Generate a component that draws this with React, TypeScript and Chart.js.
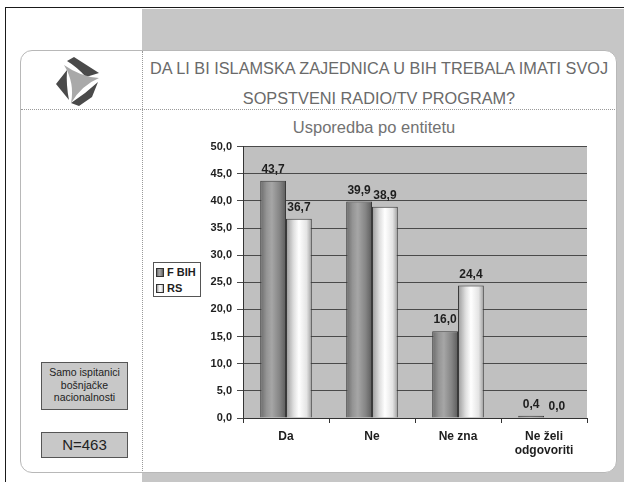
import React, { useEffect, useRef } from "react";
import { Chart, registerables } from "chart.js";

Chart.register(...registerables);

const categories: (string | string[])[] = ["Da", "Ne", "Ne zna", ["Ne želi", "odgovoriti"]];
const seriesNames = ["F BIH", "RS"];
const fbihValues = [43.7, 39.9, 16.0, 0.4];
const rsValues = [36.7, 38.9, 24.4, 0.0];
const yTicksMin = 0;
const yTicksMax = 50;
const yTicksStep = 5;

const titleLine1 = "DA LI BI ISLAMSKA ZAJEDNICA U BIH TREBALA IMATI SVOJ";
const titleLine2 = "SOPSTVENI RADIO/TV PROGRAM?";
const subtitle = "Usporedba po entitetu";
const noteLines = ["Samo ispitanici", "bošnjačke", "nacionalnosti"];
const sampleText = "N=463";

const FONT = "'Liberation Sans', Arial, sans-serif";

const fmt = (v: number) => v.toFixed(1).replace(".", ",");

const fbihStops: [number, string][] = [
  [0, "#6a6a6a"],
  [0.25, "#959595"],
  [0.45, "#a6a6a6"],
  [0.75, "#858585"],
  [1, "#5c5c5c"],
];
const rsStops: [number, string][] = [
  [0, "#9a9a9a"],
  [0.3, "#e0e0e0"],
  [0.5, "#ffffff"],
  [0.8, "#e4e4e4"],
  [1, "#9e9e9e"],
];

function barGradient(stops: [number, string][], dsIndex: number) {
  return (ctx: any) => {
    const chart = ctx.chart;
    const area = chart.chartArea;
    const xs = chart.scales.x;
    if (!area || !xs) return stops[2][1];
    const n = categories.length;
    const catW = (area.right - area.left) / n;
    const barW = (catW * 0.6) / 2;
    const center = xs.getPixelForValue(ctx.dataIndex);
    const left = dsIndex === 0 ? center - barW : center;
    const g = chart.ctx.createLinearGradient(left, 0, left + barW, 0);
    stops.forEach(([o, c]) => g.addColorStop(o, c));
    return g;
  };
}

const plotBg = {
  id: "plotBg",
  beforeDraw(chart: any) {
    const { ctx, chartArea } = chart;
    if (!chartArea) return;
    ctx.save();
    ctx.fillStyle = "#c0c0c0";
    ctx.fillRect(chartArea.left, chartArea.top, chartArea.right - chartArea.left, chartArea.bottom - chartArea.top);
    ctx.restore();
  },
};

const valueLabels = {
  id: "valueLabels",
  afterDatasetsDraw(chart: any) {
    const { ctx } = chart;
    ctx.save();
    ctx.font = `bold 12px ${FONT}`;
    ctx.fillStyle = "#1e1e1e";
    ctx.textAlign = "center";
    ctx.textBaseline = "bottom";
    chart.data.datasets.forEach((ds: any, di: number) => {
      const meta = chart.getDatasetMeta(di);
      meta.data.forEach((el: any, i: number) => {
        ctx.fillText(fmt(ds.data[i]), el.x, el.y - 5);
      });
    });
    ctx.restore();
  },
};

function Logo() {
  return (
    <svg width={44} height={49} viewBox="0 0 44 49" style={{ position: "absolute", left: 55, top: 57 }}>
      <path d="M12,4 L19,0 L44,16 L31,20 Q22,10 12,4 Z" fill="#4a4a4a" />
      <path d="M1,27 L12,13 Q11,28 14,43 Z" fill="#4a4a4a" />
      <path d="M16,46 Q30,37 43,25 L37,40 L24,49 Z" fill="#4a4a4a" />
      <path d="M9,8 Q26,20 44,21 Q27,28 16,46 Q20,26 9,8 Z" fill="#a9a9a9" />
    </svg>
  );
}

function LegendSwatch({ stops }: { stops: [number, string][] }) {
  const grad = `linear-gradient(to right, ${stops.map(([o, c]) => `${c} ${o * 100}%`).join(", ")})`;
  return (
    <span
      style={{
        display: "inline-block",
        width: 6,
        height: 7,
        border: "1px solid #333",
        background: grad,
        marginRight: 3,
        verticalAlign: "middle",
        position: "relative",
        top: -1,
      }}
    />
  );
}

export default function App() {
  const canvasRef = useRef<HTMLCanvasElement | null>(null);

  useEffect(() => {
    if (!canvasRef.current) return;
    const chart = new Chart(canvasRef.current, {
      type: "bar",
      data: {
        labels: categories as any,
        datasets: [
          {
            label: seriesNames[0],
            data: fbihValues,
            backgroundColor: barGradient(fbihStops, 0) as any,
            borderColor: "#3a3a3a",
            borderWidth: 1,
            categoryPercentage: 0.6,
            barPercentage: 1.0,
          },
          {
            label: seriesNames[1],
            data: rsValues,
            backgroundColor: barGradient(rsStops, 1) as any,
            borderColor: "#3a3a3a",
            borderWidth: 1,
            categoryPercentage: 0.6,
            barPercentage: 1.0,
          },
        ],
      },
      options: {
        animation: false,
        responsive: false,
        maintainAspectRatio: false,
        layout: { padding: { left: 48, right: 18, top: 10, bottom: 0 } },
        plugins: {
          legend: { display: false },
          title: { display: false },
          tooltip: { enabled: false },
        },
        scales: {
          x: {
            grid: {
              display: true,
              drawOnChartArea: false,
              drawTicks: true,
              tickLength: 5,
              color: "#333",
              offset: true,
            },
            border: { display: true, color: "#333", width: 1 },
            ticks: {
              color: "#1e1e1e",
              font: { family: FONT, size: 12, weight: "bold" },
              padding: 6,
              maxRotation: 0,
              autoSkip: false,
            },
            afterFit(scale: any) {
              scale.height = 52;
            },
          },
          y: {
            min: yTicksMin,
            max: yTicksMax,
            grid: {
              color: "#4a4a4a",
              lineWidth: 1,
              drawTicks: true,
              tickLength: 6,
            },
            border: { display: true, color: "#333", width: 1 },
            ticks: {
              stepSize: yTicksStep,
              color: "#1e1e1e",
              font: { family: FONT, size: 11, weight: "bold" },
              padding: 5,
              callback: (v: any) => fmt(Number(v)),
            },
            afterFit(scale: any) {
              scale.width = 50;
            },
          },
        },
      },
      plugins: [plotBg, valueLabels],
    });
    return () => chart.destroy();
  }, []);

  const titleStyle: React.CSSProperties = {
    position: "absolute",
    left: 142,
    width: 474,
    textAlign: "center",
    fontFamily: FONT,
    color: "#6a6a6a",
    whiteSpace: "nowrap",
    lineHeight: "20px",
  };

  return (
    <div
      style={{
        position: "absolute",
        left: 0,
        top: 0,
        width: 624,
        height: 482,
        overflow: "hidden",
        background: "#ffffff",
        fontFamily: FONT,
      }}
    >
      {/* outer frame lines */}
      <div
        style={{
          position: "absolute",
          left: 5,
          top: 7,
          width: 700,
          height: 600,
          borderTop: "1.5px solid #1a1a1a",
          borderLeft: "1.5px solid #1a1a1a",
        }}
      />
      {/* grey backdrop */}
      <div style={{ position: "absolute", left: 142, top: 9, right: 0, bottom: 0, background: "#c6c6c6" }} />
      {/* white panel */}
      <div
        style={{
          position: "absolute",
          left: 20,
          top: 50,
          width: 595,
          height: 421,
          background: "#ffffff",
          border: "1px solid #b8b8b8",
          borderRadius: 12,
        }}
      />
      {/* dotted separators */}
      <div style={{ position: "absolute", left: 142, top: 51, height: 420, borderLeft: "1px dotted #9a9a9a" }} />
      <div style={{ position: "absolute", left: 21, top: 109, width: 594, borderTop: "1px dotted #9a9a9a" }} />

      <Logo />

      <div style={{ ...titleStyle, top: 58, fontSize: 16.3 }}>{titleLine1}</div>
      <div style={{ ...titleStyle, top: 88, fontSize: 16.3 }}>{titleLine2}</div>
      <div style={{ ...titleStyle, top: 117, width: 464, fontSize: 16.5, color: "#727272" }}>{subtitle}</div>

      {/* legend */}
      <div
        style={{
          position: "absolute",
          left: 153,
          top: 262,
          width: 44,
          height: 33,
          border: "1px solid #555",
          background: "#ffffff",
          fontFamily: FONT,
          fontWeight: "bold",
          fontSize: 11,
          color: "#1e1e1e",
          lineHeight: "16px",
          paddingLeft: 2,
          boxSizing: "content-box",
        }}
      >
        <div style={{ marginTop: 1 }}>
          <LegendSwatch stops={fbihStops} />
          {seriesNames[0]}
        </div>
        <div>
          <LegendSwatch stops={rsStops} />
          {seriesNames[1]}
        </div>
      </div>

      {/* note boxes */}
      <div
        style={{
          position: "absolute",
          left: 41,
          top: 362,
          width: 85,
          height: 43,
          border: "1px solid #555",
          background: "#c8c8c8",
          fontSize: 10.5,
          lineHeight: "12.5px",
          color: "#222",
          textAlign: "center",
          paddingTop: 3,
        }}
      >
        {noteLines.map((l) => (
          <div key={l}>{l}</div>
        ))}
      </div>
      <div
        style={{
          position: "absolute",
          left: 41,
          top: 432,
          width: 85,
          height: 24,
          border: "1px solid #555",
          background: "#c8c8c8",
          fontSize: 15,
          lineHeight: "24px",
          color: "#222",
          textAlign: "center",
        }}
      >
        {sampleText}
      </div>

      <canvas
        ref={canvasRef}
        width={460}
        height={335}
        style={{ position: "absolute", left: 145, top: 135, width: 460, height: 335 }}
      />
    </div>
  );
}
